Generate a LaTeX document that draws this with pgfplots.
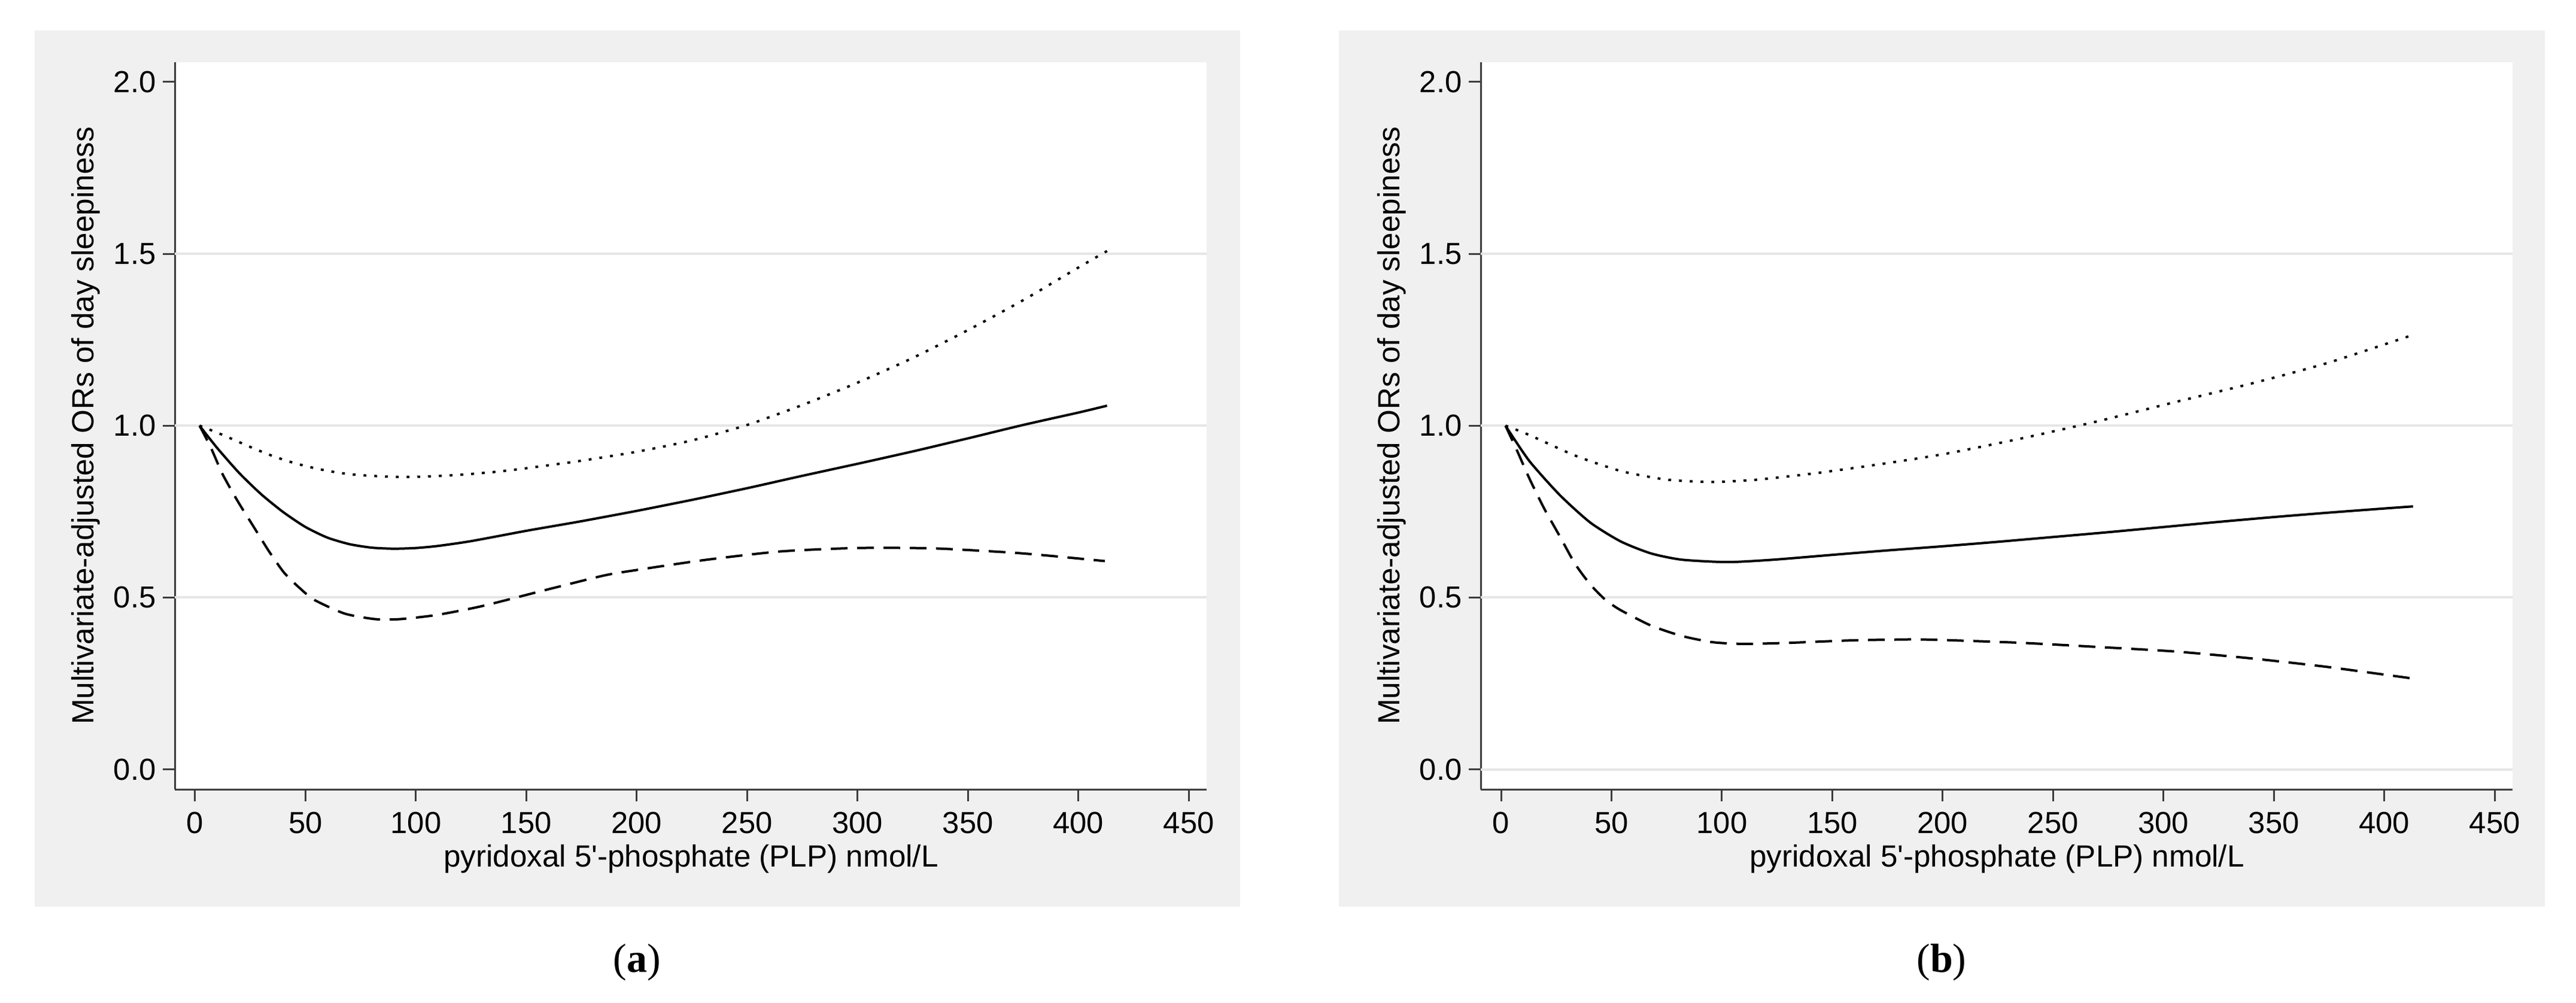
\documentclass[border=0pt]{standalone}
\usepackage{fontspec}
\setmainfont{Liberation Sans}
\newfontfamily\capfont{Liberation Serif}
\usepackage{pgfplots}
\usepackage{pgfplotstable}
\pgfplotsset{compat=1.18}

\definecolor{panelbg}{RGB}{240,240,240}
\definecolor{gridc}{RGB}{230,230,230}
\definecolor{axisc}{RGB}{60,60,60}

% panel (a): OR curve and its confidence limits
\pgfplotstableread{
x y
2 1.000
10 0.935
20 0.862
30 0.800
40 0.748
50 0.705
60 0.674
70 0.655
80 0.645
90 0.642
100 0.644
110 0.650
125 0.664
150 0.694
175 0.722
200 0.752
225 0.784
250 0.818
275 0.854
300 0.889
325 0.925
350 0.963
375 1.002
400 1.038
413 1.058
}\solidA

\pgfplotstableread{
x y
2 1.000
12.5 0.973
25 0.938
35 0.912
45 0.891
55 0.875
65 0.863
75 0.856
90 0.851
105 0.852
120 0.857
135 0.865
150 0.876
175 0.898
200 0.924
225 0.957
250 1.002
275 1.060
300 1.125
325 1.197
350 1.278
375 1.365
400 1.460
413 1.508
}\upperA

\pgfplotstableread{
x y
2 1.000
7 0.938
12.5 0.858
19.5 0.778
26.4 0.707
33.3 0.636
40.2 0.573
47.1 0.529
54 0.493
67.8 0.453
81.6 0.437
92.7 0.437
109.3 0.449
130 0.475
157.6 0.520
185.2 0.564
200 0.580
230.6 0.609
265.1 0.634
299.7 0.644
334.2 0.643
368.8 0.631
386 0.622
412 0.606
}\lowerA

% panel (b)
\pgfplotstableread{
x y
2 1.000
12.7 0.898
26.6 0.798
40.4 0.718
54.2 0.663
68 0.628
81.9 0.610
102.6 0.603
123.4 0.610
150 0.624
175 0.637
200 0.649
225 0.662
250 0.676
275 0.690
300 0.705
325 0.720
350 0.734
375 0.747
400 0.759
413 0.765
}\solidB

\pgfplotstableread{
x y
2 1.000
12.7 0.973
33.5 0.913
54.2 0.868
74.9 0.843
95.7 0.836
116.4 0.843
144.1 0.863
171.8 0.888
201.2 0.918
235.8 0.963
270.4 1.013
304.9 1.068
339.5 1.122
374.1 1.182
412 1.262
}\upperB

\pgfplotstableread{
x y
2 1.000
7.2 0.928
12.7 0.848
19.6 0.758
26.6 0.678
33.5 0.598
40.4 0.538
47.3 0.493
54.2 0.463
68 0.418
81.9 0.388
95.7 0.370
109.5 0.365
130.3 0.368
157.9 0.375
185.6 0.378
201.2 0.376
235.8 0.368
270.4 0.356
304.9 0.343
339.5 0.323
374.1 0.298
412 0.265
}\lowerB

\pgfplotsset{
  stata/.style={
    scale only axis, width=431pt, height=303.95pt,
    xmin=-9.1, xmax=458.2, ymin=-0.059, ymax=2.058,
    axis x line*=bottom, axis y line*=left,
    axis line style={axisc, line width=0.9pt, -},
    axis background/.style={fill=white},
    xtick={0,50,...,450}, ytick={0,0.5,...,2},
    tick align=outside, major tick length=5pt,
    tick style={axisc, line width=0.75pt},
    /pgf/number format/assume math mode=true,
    ticklabel style={font=\fontsize{12.7}{15}\selectfont, inner sep=0pt},
    xticklabel style={yshift=-4.3pt},
    yticklabel style={xshift=-2.8pt, /pgf/number format/.cd, fixed, fixed zerofill, precision=1},
    extra y tick labels={},
    extra y tick style={grid=major, major tick length=0pt},
    major grid style={gridc, line width=1pt},
    label style={font=\fontsize{12.8}{15}\selectfont},
    xlabel={pyridoxal 5\textquotesingle-phosphate (PLP) nmol/L},
    ylabel={Multivariate-adjusted ORs of day sleepiness},
    xlabel style={at={(axis description cs:0.5,-0.0753)}, anchor=north, inner sep=0pt},
    ylabel style={at={(axis description cs:-0.0865,0.5)}, anchor=center},
    clip=false,
  },
  est/.style={black, line width=1pt, smooth, tension=0.4},
  upr/.style={black, line width=1pt, dash pattern=on 1.2pt off 3.3pt, smooth, tension=0.4},
  lwr/.style={black, line width=1pt, dash pattern=on 7pt off 4pt, smooth, tension=0.4},
}

\begin{document}
\begin{tikzpicture}
\path[use as bounding box, fill=white] (0,0) rectangle (1076pt,-418.75pt);
\fill[panelbg] (14.4pt,-12.8pt) rectangle (518.1pt,-378.75pt);
\fill[panelbg] (559.25pt,-12.8pt) rectangle (1063pt,-378.75pt);

\begin{axis}[stata, at={(73.1pt,-329.85pt)}, anchor=south west,
  extra y ticks={0.5,1,1.5}]
\addplot[upr] table {\upperA};
\addplot[lwr] table {\lowerA};
\addplot[est] table {\solidA};
\end{axis}

\begin{axis}[stata, at={(618.6pt,-329.85pt)}, anchor=south west,
  extra y ticks={0,0.5,1,1.5}]
\addplot[upr] table {\upperB};
\addplot[lwr] table {\lowerB};
\addplot[est] table {\solidB};
\end{axis}

\node[font=\capfont\fontsize{17}{20}\selectfont] at (266pt,-402pt) {(\textbf{a})};
\node[font=\capfont\fontsize{17}{20}\selectfont] at (811pt,-402pt) {(\textbf{b})};
\end{tikzpicture}
\end{document}
